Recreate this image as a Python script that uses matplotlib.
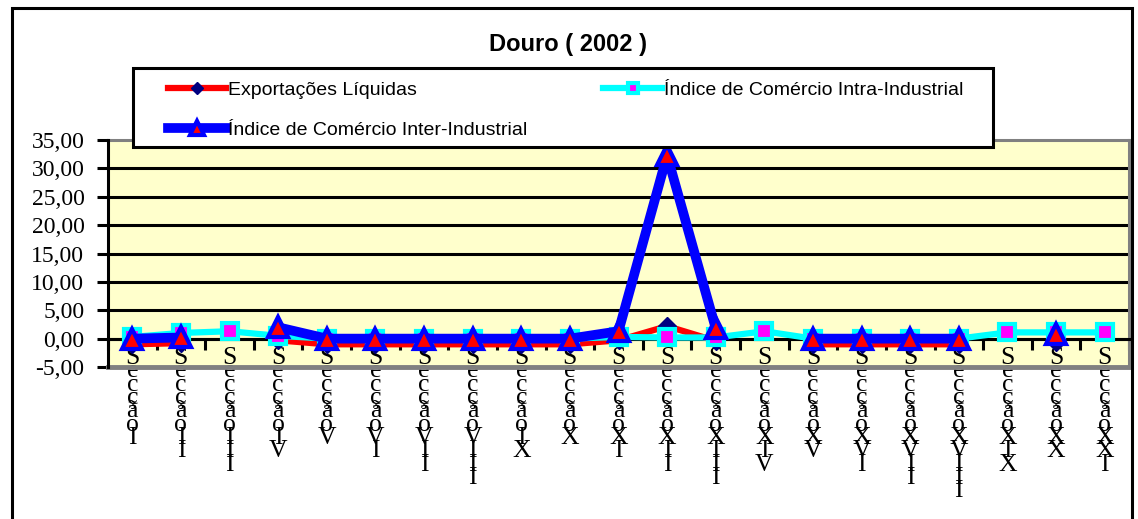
import numpy as np
import matplotlib
matplotlib.use("Agg")
import matplotlib.pyplot as plt
from matplotlib.patches import Rectangle

nan = np.nan

# dados (Douro 2002)
seccoes = ["I", "II", "III", "IV", "V", "VI", "VII", "VIII", "IX", "X", "XI",
           "XII", "XIII", "XIV", "XV", "XVI", "XVII", "XVIII", "XIX", "XX", "XXI"]
export_liq = [-1.0, -0.8, nan, -0.3, -1.0, -1.0, -1.0, -1.0, -1.0, -1.0, -0.3,
              2.2, -0.4, nan, -1.0, -1.0, -1.0, -1.0, nan, -0.6, nan]
intra_ind = [0.3, 1.0, 1.3, 0.5, 0.0, 0.0, 0.0, 0.0, 0.0, 0.0, 0.3,
             0.2, 0.2, 1.3, 0.0, 0.0, 0.0, 0.0, 1.1, 1.1, 1.1]
inter_ind = [0.0, 0.2, nan, 2.0, 0.0, 0.0, 0.0, 0.0, 0.0, 0.0, 1.3,
             32.3, 1.8, nan, 0.0, 0.0, 0.0, 0.0, nan, 0.9, nan]
y_ticks = [-5, 0, 5, 10, 15, 20, 25, 30, 35]

W, H = 1138, 519
fig = plt.figure(figsize=(W / 100, H / 100), dpi=100)
fig.patch.set_facecolor("white")

# moldura exterior
fig.patches.append(Rectangle((12 / W, -0.05), (1132 - 12) / W, 1.05 - 8 / H,
                             transform=fig.transFigure, fill=False,
                             edgecolor="black", lw=2.2))

left, right, top, bottom = 108, 1129, 140, 367
ax = fig.add_axes([left / W, 1 - bottom / H, (right - left) / W, (bottom - top) / H])
ax.set_facecolor("#FFFFCC")

x = np.arange(len(seccoes)) + 0.5

l_exp, = ax.plot(x, export_liq, color="#FF0000", lw=4.5, marker="D", ms=9,
                 mfc="#000080", mec="#000080", zorder=4, clip_on=False,
                 label="Exportações Líquidas")
l_intra, = ax.plot(x, intra_ind, color="#00FFFF", lw=4.5, marker="s", ms=11,
                   mfc="#FF00FF", mec="#00FFFF", mew=3, zorder=5, clip_on=False,
                   label="Índice de Comércio Intra-Industrial")
l_inter, = ax.plot(x, inter_ind, color="#0000FF", lw=7, marker="^", ms=14,
                   mfc="#FF0000", mec="#0000FF", mew=3, zorder=6, clip_on=False,
                   label="Índice de Comércio Inter-Industrial")

ax.set_xlim(0, len(seccoes))
ax.set_ylim(-5, 35)

# grelha
for v in [0, 5, 10, 15, 20, 25, 30]:
    ax.axhline(v, color="black", lw=2.2, zorder=1)

# bordas da área de desenho
for s in ["top", "right"]:
    ax.spines[s].set_color("#808080")
    ax.spines[s].set_linewidth(2.2)
ax.axhline(-5, color="#808080", lw=3.5, zorder=2, clip_on=False)
ax.spines["left"].set_linewidth(2.2)
ax.spines["left"].set_zorder(7)
ax.spines["bottom"].set_position(("data", 0))
ax.spines["bottom"].set_linewidth(2.2)

ax.set_yticks(y_ticks)
ax.set_yticklabels([f"{v:.2f}".replace(".", ",") for v in y_ticks],
                   family="Liberation Serif", fontsize=17)
ax.tick_params(axis="y", direction="out", length=8, width=2.2, pad=9)

ax.set_xticks(np.arange(len(seccoes) + 1))
ax.set_xticklabels([])
ax.tick_params(axis="x", which="major", direction="out", length=8, width=2.2)
ax.set_xticks(x, minor=True)
ax.set_xticklabels(["\n".join("Secção" + s) for s in seccoes], minor=True,
                   family="Liberation Serif", fontsize=18.5)
ax.tick_params(axis="x", which="minor", length=0, pad=6)
for t in ax.get_xticklabels(minor=True):
    t.set_linespacing(0.49)

fig.text(568 / W, 1 - 45 / H, "Douro ( 2002 )", ha="center", va="center",
         family="Liberation Sans", fontweight="bold", fontsize=17)

# legenda
fig.patches.append(Rectangle((133 / W, 1 - 147 / H), (993 - 133) / W, 79 / H,
                             transform=fig.transFigure, facecolor="white",
                             edgecolor="black", lw=2.2, zorder=10))
leg = fig.legend(handles=[l_exp, l_inter, l_intra], ncol=2, frameon=False,
                 loc="upper left", bbox_to_anchor=(168 / W, 1 - 81 / H),
                 borderpad=0, borderaxespad=0, handlelength=3.0,
                 handletextpad=0.1, columnspacing=3.9, labelspacing=1.15,
                 numpoints=1, markerscale=0.7,
                 prop={"family": "Liberation Sans", "size": 14})
leg.set_zorder(11)

fig.savefig("out.png", dpi=100)
